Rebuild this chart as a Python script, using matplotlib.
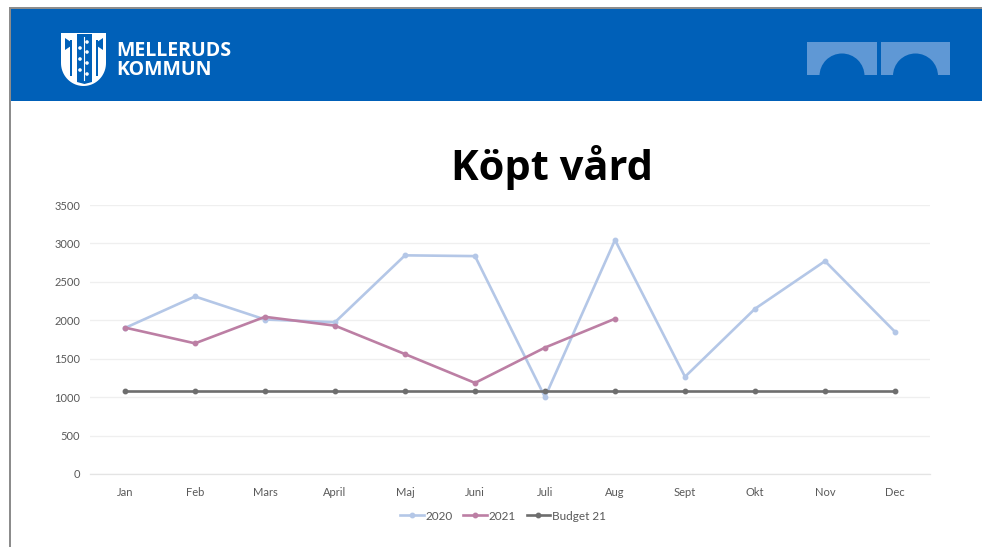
import numpy as np
import matplotlib

matplotlib.use('Agg')
import matplotlib.pyplot as plt
from matplotlib.patches import Rectangle, Polygon, Circle, Wedge

# --- DATA ---
months = ['Jan', 'Feb', 'Mars', 'April', 'Maj', 'Juni', 'Juli', 'Aug', 'Sept', 'Okt', 'Nov', 'Dec']
values_2020 = [1900, 2310, 2010, 1975, 2845, 2835, 1000, 3045, 1265, 2150, 2770, 1850]
values_2021 = [1905, 1700, 2045, 1930, 1560, 1185, 1645, 2020]
budget_21 = [1080] * 12
y_ticks = [0, 500, 1000, 1500, 2000, 2500, 3000, 3500]

W, H = 982, 547
BLUE = '#0060B8'
LIGHT = '#5F98D5'

fig = plt.figure(figsize=(W / 100, H / 100), dpi=100, facecolor='white')

# overlay in pixel coords for the slide decoration
bg = fig.add_axes([0, 0, 1, 1], zorder=0)
bg.set_xlim(0, W)
bg.set_ylim(H, 0)
bg.axis('off')
bg.add_patch(Rectangle((9, 7), 2, H - 7, fc='#8C8C8C', ec='none'))
bg.add_patch(Rectangle((9, 7), W - 9, 2, fc='#8C8C8C', ec='none'))
bg.add_patch(Rectangle((11, 9), W - 11, 92, fc=BLUE, ec='none'))

# arches top right
for x0, x1 in ((807, 877), (881, 950)):
    bg.add_patch(Rectangle((x0, 42), x1 - x0, 32.5, fc=LIGHT, ec='none'))
    bg.add_patch(Wedge(((x0 + x1) / 2, 76), 22.5, 180, 360, fc=BLUE, ec='none'))

# shield logo
t = np.linspace(0, np.pi, 40)
sx = 83.5 + 22.5 * np.cos(t)
sy = 63 + 23 * np.sin(t)
shield = [(61, 33), (106, 33)] + list(zip(sx, sy))
bg.add_patch(Polygon(shield, closed=True, fc='white', ec='none'))
bg.add_patch(Polygon([(77, 34), (92, 34), (92, 82), (84.5, 84), (77, 82)], closed=True, fc=BLUE, ec='none'))
for x0, flip in ((71, 1), (97, -1)):
    bg.add_patch(Rectangle((x0 - 1, 40), 2.2, 36, fc=BLUE, ec='none'))
    bg.add_patch(Polygon([(x0, 42), (x0 - flip * 6, 38), (x0 - flip * 6, 50), (x0, 46)], closed=True, fc=BLUE, ec='none'))
bg.plot([84.5, 84.5], [37, 80], color='white', lw=0.8)
for px, py in [(80, 48), (87, 42), (87, 52), (80, 59), (87, 63), (80, 70), (87, 74)]:
    bg.add_patch(Circle((px, py), 1.8, fc='white', ec='none'))

bg.text(116, 51, 'MELLERUDS', fontsize=14, fontweight='bold', family='Open Sans', color='white', va='center', ha='left')
bg.text(116, 70, 'KOMMUN', fontsize=14, fontweight='bold', family='Open Sans', color='white', va='center', ha='left')

bg.text(552, 168, 'Köpt vård', fontsize=30, fontweight='bold', family='Open Sans', color='black', va='center', ha='center')

# --- CHART ---
ax = fig.add_axes([90 / W, 1 - 474 / H, 840 / W, 269 / H], zorder=1)
ax.patch.set_alpha(0)
x = np.arange(len(months))

ax.plot(x, values_2020, color='#B4C7E7', lw=1.9, marker='o', ms=3.2, label='2020', zorder=3)
ax.plot(x[:len(values_2021)], values_2021, color='#BC7FA4', lw=1.9, marker='o', ms=3.2, label='2021', zorder=4)
ax.plot(x, budget_21, color='#6E6E6E', lw=1.9, marker='o', ms=3.2, label='Budget 21', zorder=5)

ax.set_xlim(-0.5, 11.5)
ax.set_ylim(0, 3500)
ax.set_xticks(x, months)
ax.set_yticks(y_ticks)
ax.tick_params(length=0, labelsize=8, labelcolor='#595959', pad=9)
for lab in ax.get_xticklabels() + ax.get_yticklabels():
    lab.set_family('Lato')
ax.tick_params(axis='y', pad=7)
ax.grid(axis='y', color='#EFEFEF', lw=0.9)
ax.set_axisbelow(True)
for s in ('top', 'right', 'left'):
    ax.spines[s].set_visible(False)
ax.spines['bottom'].set_color('#E4E4E4')
ax.spines['bottom'].set_linewidth(0.9)

leg = ax.legend(loc='center', bbox_to_anchor=(413 / 840, -42 / 269), ncol=3, frameon=False,
                prop={'family': 'Lato', 'size': 8.5}, handlelength=2.0, columnspacing=0.9,
                handletextpad=0.15, borderpad=0)
for txt in leg.get_texts():
    txt.set_color('#595959')

fig.savefig('out.png', dpi=100)
